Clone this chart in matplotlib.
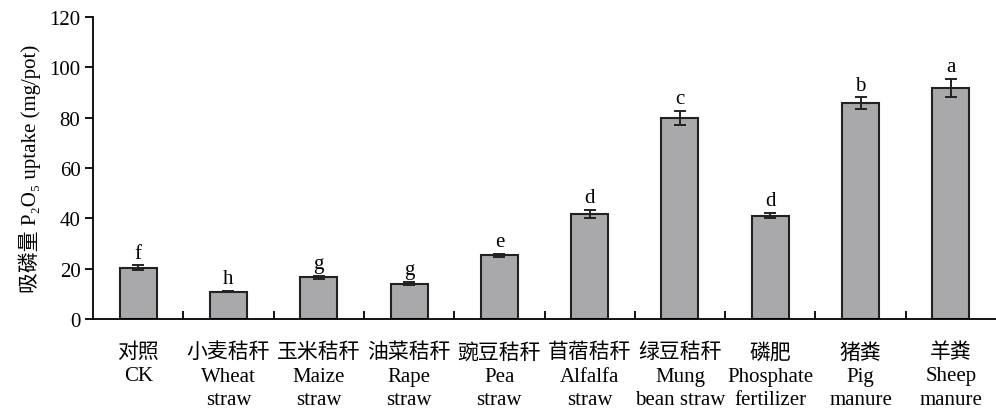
import matplotlib
matplotlib.use("Agg")
import matplotlib.pyplot as plt
import numpy as np

plt.rcParams['font.family'] = ['Liberation Serif', 'Noto Sans CJK SC', 'DejaVu Serif']

cn_names = ["对照", "小麦秸秆", "玉米秸秆", "油菜秸秆", "豌豆秸秆",
            "苜蓿秸秆", "绿豆秸秆", "磷肥", "猪粪", "羊粪"]
en_names = ["CK", "Wheat\nstraw", "Maize\nstraw", "Rape\nstraw", "Pea\nstraw",
            "Alfalfa\nstraw", "Mung\nbean straw", "Phosphate\nfertilizer",
            "Pig\nmanure", "Sheep\nmanure"]
uptake = [20.3, 10.9, 16.5, 14.1, 25.4, 41.7, 79.9, 41.1, 85.7, 91.9]
errors = [1.0, 0.3, 0.5, 0.5, 0.6, 1.7, 2.9, 1.1, 2.4, 3.6]
letters = ["f", "h", "g", "g", "e", "d", "c", "d", "b", "a"]

fig = plt.figure(figsize=(9.96, 4.10), dpi=100)
ax = fig.add_axes([93/996, 90/410, (996-93)/996, 302/410])

x = np.arange(len(uptake))
ax.bar(x, uptake, width=0.41, color="#a9a9ac", edgecolor="#222222", linewidth=1.5, zorder=2)
ax.errorbar(x, uptake, yerr=errors, fmt="none", ecolor="#222222",
            elinewidth=1.4, capsize=4, capthick=1.4, zorder=3)

for xi, v, e, lab in zip(x, uptake, errors, letters):
    ax.annotate(lab, (xi, v + e), xytext=(0, 2), textcoords="offset points",
                ha="center", va="bottom", fontsize=15)

ax.set_xlim(-0.5, len(uptake) - 0.5)
ax.set_ylim(0, 120)
ax.set_yticks(np.arange(0, 121, 20))

labels = [f"{c}\n{e}" for c, e in zip(cn_names, en_names)]
ax.set_xticks(x)
ax.set_xticklabels(labels, fontsize=15, linespacing=1.3)
ax.tick_params(axis="x", which="major", length=0, pad=17)
ax.set_xticks(np.arange(0.5, len(uptake) - 1, 1.0), minor=True)
ax.tick_params(axis="x", which="minor", direction="in", length=6, width=1.3)
ax.tick_params(axis="y", direction="out", length=6, width=1.3, labelsize=15, pad=3)

ax.spines["top"].set_visible(False)
ax.spines["right"].set_visible(False)
ax.spines["left"].set_linewidth(1.3)
ax.spines["bottom"].set_linewidth(1.3)

ax.set_ylabel("吸磷量 P₂O₅ uptake (mg/pot)", fontsize=15, labelpad=6)

fig.savefig("out.png", dpi=100)
